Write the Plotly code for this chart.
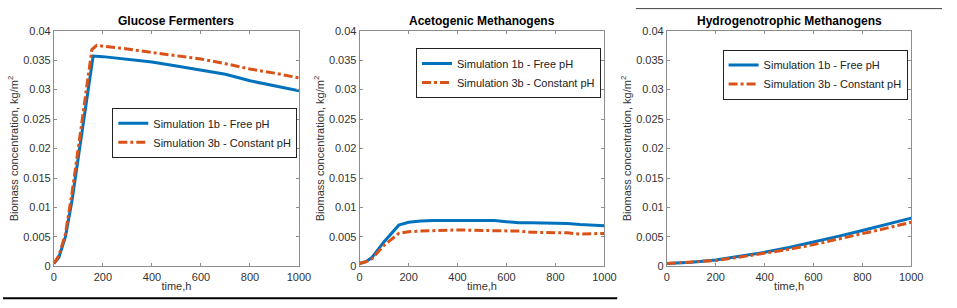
import plotly.graph_objects as go

# ---------------- data ----------------
titles = ["Glucose Fermenters", "Acetogenic Methanogens", "Hydrogenotrophic Methanogens"]
series_names = ["Simulation 1b - Free pH", "Simulation 3b - Constant pH"]
x_ticks = [0, 200, 400, 600, 800, 1000]
y_ticks = [0, 0.005, 0.01, 0.015, 0.02, 0.025, 0.03, 0.035, 0.04]
y_tick_labels = ["0", "0.005", "0.01", "0.015", "0.02", "0.025", "0.03", "0.035", "0.04"]

glu_t = [0, 20, 47, 74, 100, 130, 160, 200, 300, 400, 500, 600, 700, 800, 900, 1000]
glu_free = [0.0005, 0.0015, 0.005, 0.0112, 0.0186, 0.027, 0.0357, 0.0356, 0.0351, 0.0347, 0.034, 0.0333, 0.0326, 0.0315, 0.0306, 0.0298]
glu_const_t = [0, 20, 47, 74, 100, 130, 155, 175, 200, 300, 400, 500, 600, 700, 800, 900, 1000]
glu_const = [0.0005, 0.0018, 0.0055, 0.0125, 0.0202, 0.029, 0.0368, 0.0375, 0.0374, 0.0369, 0.0363, 0.0357, 0.0352, 0.0344, 0.0335, 0.0328, 0.032]

ace_t = [0, 25, 50, 100, 160, 200, 250, 300, 400, 500, 550, 600, 650, 700, 800, 850, 900, 1000]
ace_free = [0.0005, 0.0008, 0.0015, 0.0042, 0.007, 0.0075, 0.0077, 0.0078, 0.0078, 0.0078, 0.0078, 0.0076, 0.0074, 0.0074, 0.0073, 0.0073, 0.0071, 0.0069]
ace_const = [0.0005, 0.0008, 0.0013, 0.0036, 0.0056, 0.0059, 0.006, 0.0061, 0.0062, 0.0061, 0.0061, 0.006, 0.006, 0.0058, 0.0058, 0.0057, 0.0055, 0.0056]

hyd_t = [0, 100, 200, 300, 400, 500, 600, 700, 800, 900, 1000]
hyd_free = [0.0005, 0.0007, 0.0011, 0.0017, 0.0024, 0.0032, 0.0041, 0.0051, 0.0061, 0.0071, 0.0082]
hyd_const = [0.0005, 0.0007, 0.001, 0.0016, 0.0022, 0.0029, 0.0037, 0.0046, 0.0056, 0.0065, 0.0075]

# ---------------- styling ----------------
BLUE = "#0072BD"
RED = "#D95319"
W, H = 957, 308
FONT = "Liberation Sans, Arial, sans-serif"
TXT = "#333333"

def px_x(p):
    return p / W

def px_y(p):
    return 1 - p / H

x_domains = [(51.7, 300.7), (362.3, 611.0), (674.5, 922.7)]
y_domain = (px_y(271.0), px_y(25.7))
legend_pos = [(299.0, 132.0), (607.5, 69.7), (919.0, 71.3)]   # right edge, vertical centre

panels = [
    (glu_t, glu_free, glu_const_t, glu_const),
    (ace_t, ace_free, ace_t, ace_const),
    (hyd_t, hyd_free, hyd_t, hyd_const),
]

fig = go.Figure()
layout = dict(
    width=W, height=H,
    margin=dict(l=0, r=0, t=0, b=0),
    paper_bgcolor="white", plot_bgcolor="white",
    font=dict(family=FONT, size=11, color=TXT),
    annotations=[], shapes=[],
)

for i, (t1, v1, t2, v2) in enumerate(panels):
    n = "" if i == 0 else str(i + 1)
    leg = "legend" if i == 0 else f"legend{i + 1}"
    fig.add_trace(go.Scatter(x=t1, y=v1, mode="lines", name=series_names[0],
                             line=dict(color=BLUE, width=3), xaxis=f"x{n}", yaxis=f"y{n}",
                             legend=leg))
    fig.add_trace(go.Scatter(x=t2, y=v2, mode="lines", name=series_names[1],
                             line=dict(color=RED, width=3, dash="dashdot"), xaxis=f"x{n}", yaxis=f"y{n}",
                             legend=leg))
    ax_common = dict(showgrid=False, zeroline=False, showline=True, linecolor="#8c8c8c", linewidth=1,
                     mirror="ticks", ticks="inside", ticklen=3, tickcolor="#8c8c8c",
                     tickfont=dict(family=FONT, size=11, color=TXT))
    layout[f"xaxis{n}"] = dict(domain=[px_x(x_domains[i][0]), px_x(x_domains[i][1])],
                               anchor=f"y{n}", range=[0, 1000], tickvals=x_ticks,
                               title=dict(text="time,h", font=dict(family=FONT, size=11, color=TXT),
                                          standoff=0), **ax_common)
    layout[f"yaxis{n}"] = dict(domain=list(y_domain), anchor=f"x{n}", range=[0, 0.04],
                               tickvals=y_ticks, ticktext=y_tick_labels,
                               title=dict(text="Biomass concentration, kg/m<sup>2</sup>",
                                          font=dict(family=FONT, size=11, color=TXT), standoff=2),
                               **ax_common)
    cx = (x_domains[i][0] + x_domains[i][1]) / 2
    layout["annotations"].append(dict(
        text=f"<b>{titles[i]}</b>", xref="paper", yref="paper", x=px_x(cx), y=px_y(16),
        showarrow=False, font=dict(family=FONT, size=12, color="black"),
        xanchor="center", yanchor="middle"))
    layout[leg] = dict(x=px_x(legend_pos[i][0]), y=px_y(legend_pos[i][1]), xanchor="right", yanchor="middle",
                       bgcolor="white", bordercolor="#222222", borderwidth=1,
                       font=dict(family=FONT, size=11, color="#222222"),
                       tracegroupgap=0, itemwidth=30)

# decorative rules
layout["shapes"].append(dict(type="line", xref="paper", yref="paper", x0=0, x1=px_x(624),
                             y0=px_y(304), y1=px_y(304), line=dict(color="black", width=2)))
layout["shapes"].append(dict(type="line", xref="paper", yref="paper", x0=px_x(643), x1=px_x(954),
                             y0=px_y(2.7), y1=px_y(2.7), line=dict(color="#444444", width=1)))

fig.update_layout(**layout)
fig.write_html(
    "out.html", config={"displayModeBar": False},
    post_script=("document.body.style.margin='0';document.body.style.padding='0';"
                 "document.documentElement.style.overflow='hidden';"
                 "document.body.style.overflow='hidden';"),
)
